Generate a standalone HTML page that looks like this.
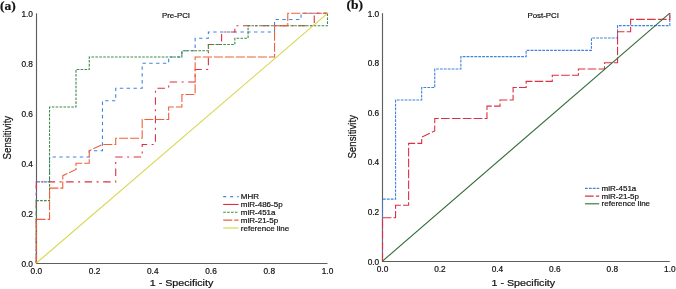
<!DOCTYPE html>
<html><head><meta charset="utf-8"><style>
html,body{margin:0;padding:0;background:#fff;width:676px;height:289px;overflow:hidden}
svg{display:block;will-change:transform}
text{font-family:"Liberation Sans",sans-serif;fill:#111;stroke:#111;stroke-width:0.2px}
.t{font-size:8.3px}
.ax{font-size:9px}
.ti{font-size:7.9px}
.axv{font-size:9.7px}
.lg{font-size:8px}
.lab{font-family:"Liberation Serif",serif;font-weight:bold;font-size:13.5px;fill:#111}
</style></head><body>
<svg width="676" height="289" viewBox="0 0 676 289">
<line x1="36.5" y1="13.300000000000011" x2="36.5" y2="263.9" stroke="#5e5e5e" stroke-width="1.15"/>
<line x1="36.0" y1="263.45" x2="327.5" y2="263.45" stroke="#5e5e5e" stroke-width="1.15"/>
<polyline points="36.30,263.10 36.30,181.92 49.54,181.92 49.54,156.94 89.25,156.94 89.25,150.69 102.48,150.69 102.48,100.73 115.72,100.73 115.72,88.24 142.19,88.24 142.19,63.26 168.66,63.26 168.66,57.02 181.90,57.02 181.90,50.77 195.14,50.77 195.14,38.28 208.37,38.28 208.37,32.04 274.55,32.04 274.55,19.55 301.03,19.55 301.03,13.30 327.50,13.30" fill="none" stroke="#4083e2" stroke-width="1.1" stroke-dasharray="3.4 3.4"/>
<polyline points="36.30,263.10 36.30,181.92 115.72,181.92 115.72,156.94 142.19,156.94 142.19,144.45 155.43,144.45 155.43,88.24 168.66,88.24 168.66,82.00 195.14,82.00 195.14,69.51 208.37,69.51 208.37,44.53 221.61,44.53 221.61,32.04 234.85,32.04 234.85,25.79 314.26,25.79 314.26,13.30 327.50,13.30" fill="none" stroke="#dc3045" stroke-width="1.1" stroke-dasharray="7.5 4.5 2 4.5"/>
<polyline points="36.30,263.10 36.30,200.65 49.54,200.65 49.54,106.98 76.01,106.98 76.01,69.51 89.25,69.51 89.25,57.02 181.90,57.02 181.90,50.77 208.37,50.77 208.37,44.53 234.85,44.53 234.85,38.28 248.08,38.28 248.08,25.79 327.50,25.79 327.50,13.30" fill="none" stroke="#3f8a45" stroke-width="1.1" stroke-dasharray="2.6 1.3"/>
<polyline points="36.30,263.10 36.30,219.39 49.54,219.39 49.54,188.16 62.77,188.16 62.77,175.67 76.01,169.43 76.01,163.18 89.25,163.18 89.25,150.69 102.48,144.45 115.72,144.45 115.72,138.20 142.19,138.20 142.19,119.47 168.66,119.47 168.66,106.98 181.90,106.98 181.90,94.49 195.14,94.49 195.14,57.02 274.55,57.02 274.55,25.79 287.79,25.79 287.79,13.30 327.50,13.30" fill="none" stroke="#f0603c" stroke-width="1.1" stroke-dasharray="9 2"/>
<line x1="36.3" y1="263.1" x2="327.5" y2="13.300000000000011" stroke="#d6d444" stroke-width="1.1"/>
<line x1="382.5" y1="13.200000000000017" x2="382.5" y2="261.9" stroke="#5e5e5e" stroke-width="1.15"/>
<line x1="382.0" y1="261.45" x2="669.8" y2="261.45" stroke="#5e5e5e" stroke-width="1.15"/>
<polyline points="382.50,261.10 382.50,199.13 395.56,199.13 395.56,99.97 421.68,99.97 421.68,87.57 434.74,87.57 434.74,68.98 460.85,68.98 460.85,56.58 526.15,56.58 526.15,50.39 591.45,50.39 591.45,37.99 617.56,37.99 617.56,25.59 669.80,25.59 669.80,13.20" fill="none" stroke="#4083e2" stroke-width="1.1" stroke-dasharray="2.8 1.1"/>
<polyline points="382.50,261.10 382.50,217.72 395.56,217.72 395.56,205.32 408.62,205.32 408.62,143.35 421.68,143.35 421.68,137.15 434.74,130.95 434.74,118.56 486.97,118.56 486.97,106.16 500.03,106.16 500.03,99.97 513.09,99.97 513.09,87.57 526.15,87.57 526.15,81.37 552.27,81.37 552.27,75.18 578.39,75.18 578.39,68.98 604.50,68.98 604.50,62.78 617.56,62.78 617.56,31.79 630.62,31.79 630.62,19.40 669.80,19.40 669.80,13.20" fill="none" stroke="#dc3045" stroke-width="1.1" stroke-dasharray="8.7 2.2"/>
<line x1="382.5" y1="261.1" x2="669.8" y2="13.200000000000017" stroke="#306c36" stroke-width="1.1"/>
<text x="33.0" y="266.80" text-anchor="end" class="t">0.0</text>
<text x="36.30" y="273.8" text-anchor="middle" class="t">0.0</text>
<text x="33.0" y="216.84" text-anchor="end" class="t">0.2</text>
<text x="94.54" y="273.8" text-anchor="middle" class="t">0.2</text>
<text x="33.0" y="166.88" text-anchor="end" class="t">0.4</text>
<text x="152.78" y="273.8" text-anchor="middle" class="t">0.4</text>
<text x="33.0" y="116.92" text-anchor="end" class="t">0.6</text>
<text x="211.02" y="273.8" text-anchor="middle" class="t">0.6</text>
<text x="33.0" y="66.96" text-anchor="end" class="t">0.8</text>
<text x="269.26" y="273.8" text-anchor="middle" class="t">0.8</text>
<text x="33.0" y="17.00" text-anchor="end" class="t">1.0</text>
<text x="327.50" y="273.8" text-anchor="middle" class="t">1.0</text>
<text x="379.2" y="264.50" text-anchor="end" class="t">0.0</text>
<text x="382.50" y="271.6" text-anchor="middle" class="t">0.0</text>
<text x="379.2" y="214.92" text-anchor="end" class="t">0.2</text>
<text x="439.96" y="271.6" text-anchor="middle" class="t">0.2</text>
<text x="379.2" y="165.34" text-anchor="end" class="t">0.4</text>
<text x="497.42" y="271.6" text-anchor="middle" class="t">0.4</text>
<text x="379.2" y="115.76" text-anchor="end" class="t">0.6</text>
<text x="554.88" y="271.6" text-anchor="middle" class="t">0.6</text>
<text x="379.2" y="66.18" text-anchor="end" class="t">0.8</text>
<text x="612.34" y="271.6" text-anchor="middle" class="t">0.8</text>
<text x="379.2" y="16.60" text-anchor="end" class="t">1.0</text>
<text x="669.80" y="271.6" text-anchor="middle" class="t">1.0</text>
<text transform="translate(181.5,286.3) scale(1.19,1)" text-anchor="middle" class="ax">1 - Specificity</text>
<text transform="translate(523.3,286.3) scale(1.19,1)" text-anchor="middle" class="ax">1 - Specificity</text>
<text transform="translate(10.6,137.6) rotate(-90) scale(1,1.1)" text-anchor="middle" class="axv">Sensitivity</text>
<text transform="translate(356.2,136.8) rotate(-90) scale(1,1.1)" text-anchor="middle" class="axv">Sensitivity</text>
<text x="176" y="18.2" text-anchor="middle" class="ti">Pre-PCI</text>
<text x="543.2" y="18.2" text-anchor="middle" class="ti">Post-PCI</text>
<text x="0" y="10" class="lab">(a)</text>
<text x="346.6" y="9.4" class="lab">(b)</text>
<line x1="223.2" y1="196.60" x2="238.6" y2="196.60" stroke="#4083e2" stroke-width="1.1" stroke-dasharray="3 4"/>
<text x="240.8" y="199.20" class="lg">MHR</text>
<line x1="223.2" y1="204.45" x2="238.6" y2="204.45" stroke="#dc3045" stroke-width="1.1"/>
<text x="240.8" y="207.05" class="lg">miR-486-5p</text>
<line x1="223.2" y1="212.30" x2="238.6" y2="212.30" stroke="#3f8a45" stroke-width="1.1" stroke-dasharray="2.6 1.3"/>
<text x="240.8" y="214.90" class="lg">miR-451a</text>
<line x1="223.2" y1="220.15" x2="238.6" y2="220.15" stroke="#f0603c" stroke-width="1.1" stroke-dasharray="9 2"/>
<text x="240.8" y="222.75" class="lg">miR-21-5p</text>
<line x1="223.2" y1="228.00" x2="238.6" y2="228.00" stroke="#d6d444" stroke-width="1.1"/>
<text x="240.8" y="230.60" class="lg">reference line</text>
<line x1="585.0" y1="188.40" x2="599.2" y2="188.40" stroke="#4083e2" stroke-width="1.1" stroke-dasharray="2.8 1.1"/>
<text x="601.6" y="191.00" class="lg">miR-451a</text>
<line x1="585.0" y1="196.10" x2="599.2" y2="196.10" stroke="#dc3045" stroke-width="1.1" stroke-dasharray="8.7 2.2"/>
<text x="601.6" y="198.70" class="lg">miR-21-5p</text>
<line x1="585.0" y1="203.80" x2="599.2" y2="203.80" stroke="#306c36" stroke-width="1.1"/>
<text x="601.6" y="206.40" class="lg">reference line</text>
</svg>
</body></html>
